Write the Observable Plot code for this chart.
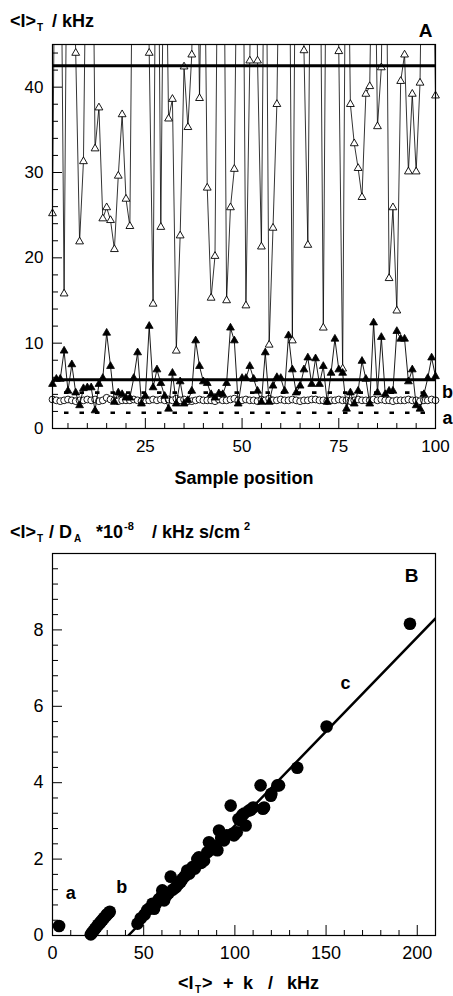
<!DOCTYPE html>
<html>
<head>
<meta charset="utf-8">
<script src="https://cdn.jsdelivr.net/npm/d3@7"></script>
<script src="https://cdn.jsdelivr.net/npm/@observablehq/plot@0.6"></script>
<style>
  html, body { margin: 0; padding: 0; background: white; }
  #chart { width: 453px; }
  #chart svg { display: block; }
</style>
</head>
<body>
<div id="chart"></div>
<script>
// ---------- Panel A data ----------
const samplePos = d3.range(1, 101);
const openTri = [
  25.2, 80, 70, 15.8, 75, 65, 44.0, 21.9, 31.3, 70,
  80, 32.8, 37.6, 24.6, 25.9, 24.4, 21.0, 29.6, 36.8, 26.9,
  23.7, 75, 80, 70, 75, 44.0, 14.6, 80, 23.6, 70,
  36.3, 38.6, 9.1, 22.6, 42.4, 35.3, 43.8, 75, 38.7, 70,
  28.2, 15.3, 20.2, 75, 80, 15.0, 25.9, 30.4, 70, 75,
  14.4, 43.1, 80, 43.1, 21.3, 75, 9.8, 23.5, 38.0, 70,
  80, 75, 10.3, 70, 80, 44.3, 21.5, 75, 80, 70,
  11.8, 75, 80, 70, 44.2, 7.0, 75, 38.0, 33.4, 30.5,
  27.1, 39.2, 40.1, 70, 35.4, 42.3, 75, 17.6, 25.9, 13.8,
  40.7, 43.8, 30.1, 39.2, 30.1, 40.5, 75, 80, 70, 39.0
];
const filledTri = [
  5.2, 5.8, 5.8, 9.1, 4.4, 7.5, 4.2, 2.7, 4.7, 4.8,
  4.8, 2.1, 5.2, 5.9, 11.2, 7.3, 3.1, 4.2, 4.0, 3.6,
  3.6, 5.9, 8.9, 2.9, 3.8, 12.0, 4.8, 6.9, 5.3, 3.8,
  2.3, 6.5, 2.9, 5.5, 2.9, 3.3, 4.4, 10.3, 7.3, 5.5,
  5.3, 4.0, 3.6, 4.1, 4.0, 5.3, 11.8, 10.3, 2.9, 5.9,
  5.9, 7.3, 5.8, 4.4, 3.1, 8.9, 3.1, 5.0, 6.0, 5.9,
  4.4, 10.9, 6.9, 4.2, 5.0, 6.9, 8.3, 5.2, 8.2, 5.2,
  7.3, 3.1, 6.5, 10.5, 6.9, 6.5, 2.3, 4.2, 2.9, 4.4,
  7.9, 5.8, 2.9, 12.4, 4.2, 10.7, 4.0, 4.4, 4.4, 11.4,
  10.5, 10.5, 5.5, 6.9, 2.7, 2.3, 4.0, 5.9, 8.3, 6.1
];
const openCircles = [
  3.4, 3.3, 3.2, 3.3, 3.4, 3.3, 3.2, 3.3, 3.3, 3.4,
  3.3, 3.4, 3.2, 3.3, 3.6, 3.4, 3.3, 3.2, 3.3, 3.3,
  3.3, 3.4, 3.3, 3.2, 3.3, 3.3, 3.4, 3.3, 3.4, 3.3,
  3.4, 3.3, 3.5, 3.3, 3.4, 3.2, 3.2, 3.3, 3.4, 3.3,
  3.3, 3.3, 3.2, 3.4, 3.3, 3.3, 3.4, 3.5, 3.3, 3.3,
  3.4, 3.3, 3.3, 3.2, 3.4, 3.3, 3.5, 3.3, 3.3, 3.4,
  3.3, 3.3, 3.4, 3.3, 3.2, 3.3, 3.3, 3.4, 3.4, 3.3,
  3.3, 3.2, 3.3, 3.3, 3.4, 3.3, 3.3, 3.2, 3.3, 3.4,
  3.3, 3.3, 3.3, 3.4, 3.3, 3.4, 3.3, 3.3, 3.2, 3.3,
  3.3, 3.3, 3.4, 3.3, 3.3, 3.2, 3.3, 3.3, 3.4, 3.3
];
const thickLevelsA = [42.5, 5.7];
const dashedLevelsA = [4.2, 1.85];
const curveLabelsA = ["b", "a"];
const curveLabelYA = [4.2, 1.2];
const xMinorTicksA = [5, 10, 15, 20, 30, 35, 40, 45, 55, 60, 65, 70, 80, 85, 90, 95];
const xMajorTicksA = [25, 50, 75];
const xLabelTicksA = [25, 50, 75, 100];
const yMinorTicksA = [2, 4, 6, 8, 12, 14, 16, 18, 22, 24, 26, 28, 32, 34, 36, 38, 42, 44];
const yMajorTicksA = [10, 20, 30, 40];
const yLabelTicksA = [0, 10, 20, 30, 40];

// ---------- Panel B data ----------
const groupAX = [3.6];
const groupAY = [0.25];
const groupBX = [21.0, 21.8, 22.5, 23.4, 24.1, 25.0, 25.9, 26.6, 27.5, 28.2, 29.1, 29.8, 30.6, 31.4];
const groupBY = [0.03, 0.08, 0.12, 0.18, 0.22, 0.28, 0.32, 0.37, 0.41, 0.46, 0.50, 0.55, 0.58, 0.62];
const groupCX = [
  46.6, 48.4, 50.5, 52.0, 53.5, 54.8, 55.7, 57.0, 58.3, 59.5,
  60.2, 61.2, 62.5, 63.8, 64.8, 66.0, 67.6, 69.0, 70.2, 71.2,
  72.5, 73.9, 75.0, 76.7, 78.0, 79.4, 80.3, 81.5, 83.1, 84.9,
  85.8, 87.0, 88.2, 89.5, 90.4, 91.3, 92.5, 94.0, 95.5, 97.7,
  98.6, 99.5, 101.0, 102.0, 103.2, 104.0, 105.0, 105.9, 107.7, 108.7,
  110.0, 114.1, 115.4, 116.0, 119.7, 120.0, 123.3, 124.2, 134.2, 150.3,
  196.0
];
const groupCY = [
  0.31, 0.45, 0.55, 0.67, 0.72, 0.83, 0.70, 0.85, 0.95, 1.00,
  1.18, 0.92, 1.05, 1.12, 1.54, 1.20, 1.26, 1.35, 1.40, 1.48,
  1.55, 1.70, 1.62, 1.79, 1.75, 2.00, 2.05, 1.90, 1.96, 2.18,
  2.44, 2.25, 2.35, 2.27, 2.23, 2.75, 2.55, 2.49, 2.62, 3.40,
  2.66, 2.62, 2.70, 3.05, 3.01, 3.15, 3.19, 2.88, 3.27, 3.29,
  3.35, 3.93, 3.32, 3.35, 3.66, 3.71, 3.93, 3.93, 4.39, 5.47,
  8.16
];
const fitX = [41.6, 210];
const fitY = [0, 8.3];
const curveLabelsB = ["a", "b", "c"];
const curveLabelXB = [10, 38, 160.7];
const curveLabelYB = [1.1, 1.26, 6.6];
const xMinorTicksB = [10, 20, 30, 40, 60, 70, 80, 90, 110, 120, 130, 140, 160, 170, 180, 190];
const xMajorTicksB = [50, 100, 150, 200];
const xLabelTicksB = [0, 50, 100, 150, 200];
const yMinorTicksB = [0.4, 0.8, 1.2, 1.6, 2.4, 2.8, 3.2, 3.6, 4.4, 4.8, 5.2, 5.6, 6.4, 6.8, 7.2, 7.6, 8.4, 8.8, 9.2, 9.6];
const yMajorTicksB = [2, 4, 6, 8];
const yLabelTicksB = [0, 2, 4, 6, 8];

const FONT = "'Liberation Sans', Arial, Helvetica, sans-serif";
const blank = () => "";

// ---------- Panel A ----------
const rowsA = samplePos.map((p, i) => ({pos: p, open: openTri[i], filled: filledTri[i], circ: openCircles[i]}));
const labelsA = curveLabelsA.map((t, i) => ({t, y: curveLabelYA[i]}));

const plotA = Plot.plot({
  width: 453,
  height: 490,
  marginLeft: 52,
  marginRight: 18,
  marginTop: 44,
  marginBottom: 62,
  x: {domain: [1, 100]},
  y: {domain: [0, 45]},
  style: {fontFamily: FONT, color: "black", background: "white", overflow: "visible"},
  marks: [
    Plot.axisX({ticks: xMinorTicksA, tickSize: -5, tickFormat: blank, label: null}),
    Plot.axisX({ticks: xMajorTicksA, tickSize: -10, tickFormat: blank, label: null}),
    Plot.axisX({ticks: xLabelTicksA, tickSize: 0, tickPadding: 11, fontSize: 17, label: null}),
    Plot.axisY({ticks: yMinorTicksA, tickSize: -6, tickFormat: blank, label: null}),
    Plot.axisY({ticks: yMajorTicksA, tickSize: -10, tickFormat: blank, label: null}),
    Plot.axisY({ticks: yLabelTicksA, tickSize: 0, tickPadding: 9, fontSize: 17, label: null}),
    Plot.line(rowsA, {x: "pos", y: "open", stroke: "black", strokeWidth: 0.8, clip: true}),
    Plot.dot(rowsA.filter(d => d.open <= 45), {x: "pos", y: "open", symbol: "triangle", r: 2.9, fill: "white", stroke: "black", strokeWidth: 0.9}),
    Plot.ruleY(thickLevelsA, {stroke: "black", strokeWidth: 3}),
    Plot.ruleY(dashedLevelsA, {stroke: "black", strokeWidth: 2.6, strokeDasharray: "4.5 11", strokeDashoffset: -12}),
    Plot.line(rowsA, {x: "pos", y: "circ", stroke: "black", strokeWidth: 0.8}),
    Plot.dot(rowsA, {x: "pos", y: "circ", r: 3.4, fill: "white", stroke: "black", strokeWidth: 0.9}),
    Plot.line(rowsA, {x: "pos", y: "filled", stroke: "black", strokeWidth: 0.9}),
    Plot.dot(rowsA, {x: "pos", y: "filled", symbol: "triangle", r: 2.9, fill: "black", stroke: "black", strokeWidth: 0.8}),
    Plot.frame({stroke: "black", strokeWidth: 1.2}),
    Plot.text(labelsA, {x: 100, y: "y", text: "t", dx: 12, fontSize: 18, fontWeight: "bold", fill: "black"}),
    Plot.text(["A"], {frameAnchor: "top-right", lineAnchor: "middle", dx: -3, dy: -14, text: d => d, fontSize: 19, fontWeight: "bold", fill: "black"}),
    Plot.text(["Sample position"], {frameAnchor: "bottom", lineAnchor: "middle", dy: 50, text: d => d, fontSize: 18, fontWeight: "bold", fill: "black"})
  ]
});

// ---------- Panel B ----------
const ptsB = [
  ...groupAX.map((x, i) => ({x, y: groupAY[i]})),
  ...groupBX.map((x, i) => ({x, y: groupBY[i]})),
  ...groupCX.map((x, i) => ({x, y: groupCY[i]}))
];
const fitB = fitX.map((x, i) => ({x, y: fitY[i]}));
const labelsB = curveLabelsB.map((t, i) => ({t, x: curveLabelXB[i], y: curveLabelYB[i]}));

const plotB = Plot.plot({
  width: 453,
  height: 506,
  marginLeft: 52,
  marginRight: 18,
  marginTop: 63,
  marginBottom: 61,
  x: {domain: [0, 210]},
  y: {domain: [0, 10]},
  style: {fontFamily: FONT, color: "black", background: "white", overflow: "visible"},
  marks: [
    Plot.axisX({ticks: xMinorTicksB, tickSize: -5, tickFormat: blank, label: null}),
    Plot.axisX({ticks: xMajorTicksB, tickSize: -10, tickFormat: blank, label: null}),
    Plot.axisX({ticks: xLabelTicksB, tickSize: 0, tickPadding: 11, fontSize: 18, label: null}),
    Plot.axisY({ticks: yMinorTicksB, tickSize: -6, tickFormat: blank, label: null}),
    Plot.axisY({ticks: yMajorTicksB, tickSize: -10, tickFormat: blank, label: null}),
    Plot.axisY({ticks: yLabelTicksB, tickSize: 0, tickPadding: 9, fontSize: 18, label: null}),
    Plot.line(fitB, {x: "x", y: "y", stroke: "black", strokeWidth: 2.5, clip: true}),
    Plot.dot(ptsB, {x: "x", y: "y", r: 6.3, fill: "black"}),
    Plot.frame({stroke: "black", strokeWidth: 1.2}),
    Plot.text(labelsB, {x: "x", y: "y", text: "t", fontSize: 18, fontWeight: "bold", fill: "black"}),
    Plot.text(["B"], {frameAnchor: "top-right", lineAnchor: "middle", dx: -17, dy: 22, text: d => d, fontSize: 19, fontWeight: "bold", fill: "black"})
  ]
});

// ---------- rich-text titles ----------
function richText(svg, y, pieces) {
  const g = d3.select(svg).append("g")
    .attr("font-family", FONT)
    .attr("font-weight", "bold")
    .attr("fill", "black")
    .attr("text-anchor", "start");
  for (const [s, x, kind] of pieces) {
    const t = g.append("text").attr("x", x).attr("text-anchor", "start").text(s);
    if (kind === "sub") t.attr("y", y + 4).attr("font-size", 10);
    else if (kind === "sup") t.attr("y", y - 8).attr("font-size", 11);
    else t.attr("y", y).attr("font-size", 18);
  }
}

richText(plotA, 27, [["<I>", 10], ["T", 37, "sub"], ["/ kHz", 52]]);
richText(plotB, 48, [
  ["<I>", 10], ["T", 37, "sub"], ["/ D", 49], ["A", 74, "sub"],
  ["*10", 96], ["-8", 124, "sup"], ["/ kHz s/cm", 152], ["2", 244, "sup"]
]);
richText(plotB, 499, [
  ["<I", 178], ["T", 195, "sub"], [">", 202], ["+", 223], ["k", 243], ["/", 268], ["kHz", 287]
]);

const chart = document.getElementById("chart");
chart.appendChild(plotA);
chart.appendChild(plotB);
</script>
</body>
</html>
